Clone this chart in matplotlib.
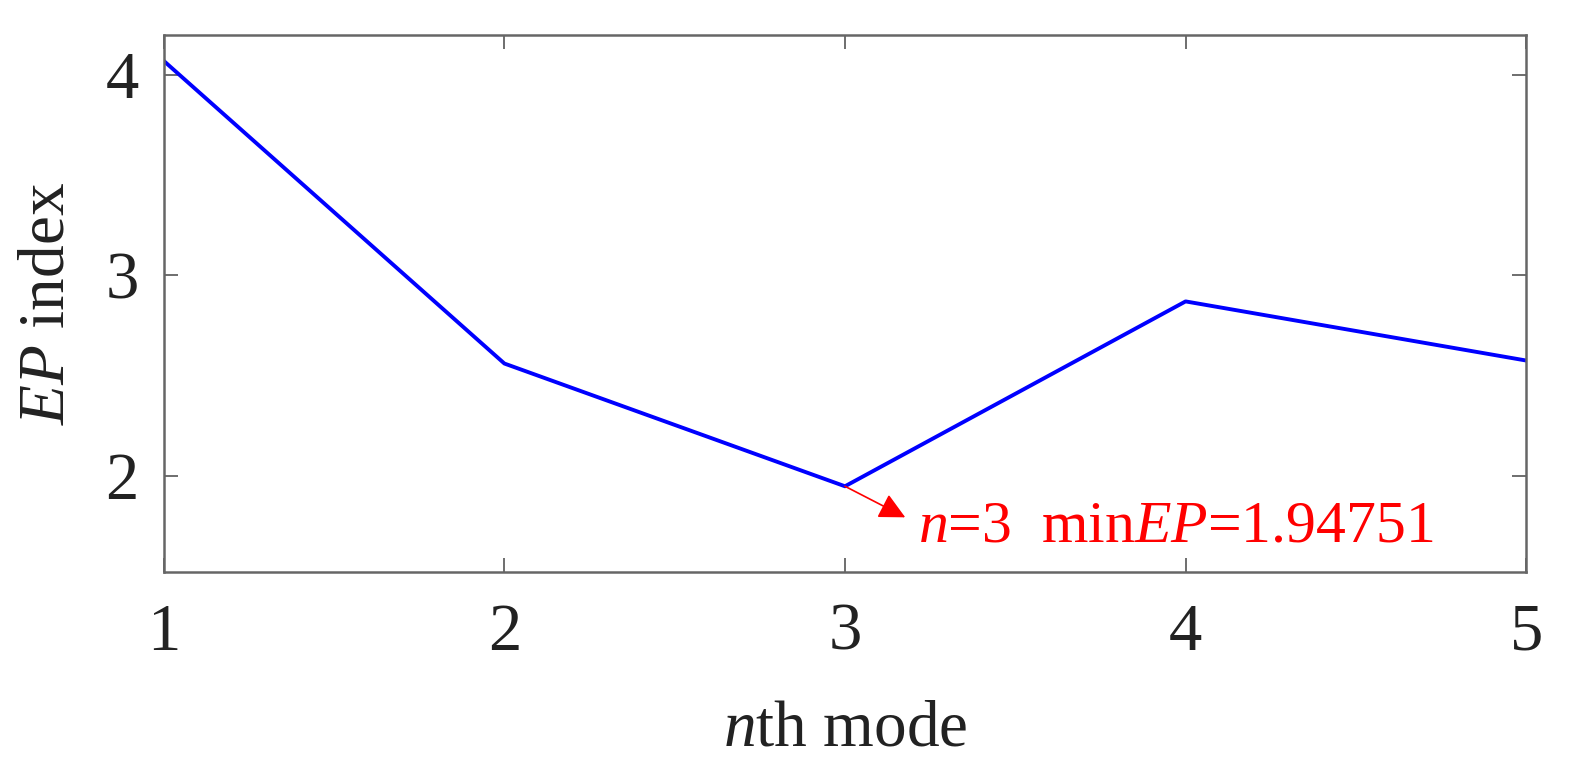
import matplotlib
matplotlib.use("Agg")
import matplotlib.pyplot as plt

# EP index per mode
modes = [1, 2, 3, 4, 5]
ep_index = [4.07, 2.56, 1.94751, 2.87, 2.575]
xticks = [1, 2, 3, 4, 5]
yticks = [2, 3, 4]

plt.rcParams['font.family'] = 'Liberation Serif'
plt.rcParams['mathtext.fontset'] = 'custom'
plt.rcParams['mathtext.rm'] = 'Liberation Serif'
plt.rcParams['mathtext.it'] = 'Liberation Serif:italic'

fig = plt.figure(figsize=(15.75, 7.75), dpi=100)
ax = fig.add_axes([0.104, 0.262, 0.865, 0.693])

ax.plot(modes, ep_index, color='#0000ff', linewidth=2.8)

ax.set_xlim(1, 5)
ax.set_ylim(1.52, 4.2)
ax.set_xticks(xticks)
ax.set_yticks(yticks)
ax.tick_params(direction='in', length=10, width=1.2, colors='#555555',
               labelcolor='#222222', labelsize=48, top=True, right=True)
ax.tick_params(axis='x', pad=22)
ax.tick_params(axis='y', pad=18)
for s in ax.spines.values():
    s.set_color('#666666')
    s.set_linewidth(1.8)

ax.set_xlabel(r'$n$th mode', fontsize=47, color='#222222', labelpad=26)
ax.set_ylabel(r'$EP$ index', fontsize=47, color='#222222', labelpad=20)

# mark the minimum
imin = ep_index.index(min(ep_index))
xm, ym = modes[imin], ep_index[imin]
ax.annotate('', xy=(xm + 0.177, ym - 0.155), xytext=(xm, ym),
            arrowprops=dict(arrowstyle='-|>', color='#ff0000', lw=1.2,
                            mutation_scale=40, shrinkA=0, shrinkB=0))
ax.text(xm + 0.215, ym - 0.275, r'$n$=3  min$EP$=1.94751',
        color='#ff0000', fontsize=43, va='baseline', ha='left')

fig.savefig('out.png', dpi=100)
